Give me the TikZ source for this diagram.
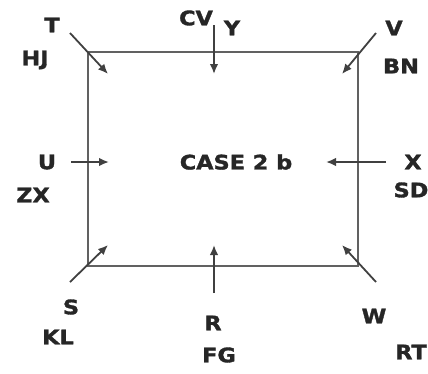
\documentclass[tikz,border=0pt]{standalone}
\usepackage{fontspec}
\newfontfamily\lblfont[FakeStretch=1.12,FakeBold=1.6]{DejaVu Sans Bold}
\usetikzlibrary{arrows.meta}
\tikzset{
  lbl/.style={font=\lblfont\fontsize{20}{20}\selectfont, text=black!85, inner sep=0pt},
  frame/.style={draw=black!62, line width=2pt},
  arr/.style={draw=black!75, line width=1.8pt, -{Latex[length=10pt,width=8.5pt]}},
}
\begin{document}
\begin{tikzpicture}[x=1pt,y=-1pt]
\useasboundingbox (0,0) rectangle (428,373);
% frame corners
\coordinate (tl) at (88,52);
\coordinate (tr) at (358,52);
\coordinate (br) at (358,266);
\coordinate (bl) at (88,266);
\draw[frame] (tl) -- (tr) -- (br) -- (bl) -- cycle;
% arrow ends
\coordinate (a1s) at (70,33);   \coordinate (a1e) at (108,74);
\coordinate (a2s) at (214,25);  \coordinate (a2e) at (214,74);
\coordinate (a3s) at (376,33);  \coordinate (a3e) at (342,74);
\coordinate (a4s) at (71,162);  \coordinate (a4e) at (109,162);
\coordinate (a5s) at (386,162); \coordinate (a5e) at (326,162);
\coordinate (a6s) at (70,282);  \coordinate (a6e) at (108,245);
\coordinate (a7s) at (214,293); \coordinate (a7e) at (214,245);
\coordinate (a8s) at (376,282); \coordinate (a8e) at (342,245);
\foreach \i in {1,...,8} {\draw[arr] (a\i s) -- (a\i e);}
% labels
\node[lbl] (T)  at (52,25) {T};
\node[lbl] (HJ) at (35,60) {HJ};
\node[lbl] (CV) at (196,18) {CV};
\node[lbl] (Y)  at (232,28) {Y};
\node[lbl] (V)  at (394,28) {V};
\node[lbl] (BN) at (401,66) {BN};
\node[lbl] (U)  at (47,162) {U};
\node[lbl] (ZX) at (33,195) {ZX};
\node[lbl] (C)  at (236,162) {CASE 2 b};
\node[lbl] (X)  at (413,162) {X};
\node[lbl] (SD) at (411,190) {SD};
\node[lbl] (S)  at (71,307) {S};
\node[lbl] (KL) at (58,337) {KL};
\node[lbl] (R)  at (213,323) {R};
\node[lbl] (FG) at (219,355) {FG};
\node[lbl] (W)  at (374,316) {W};
\node[lbl] (RT) at (411,352) {RT};
\end{tikzpicture}
\end{document}
